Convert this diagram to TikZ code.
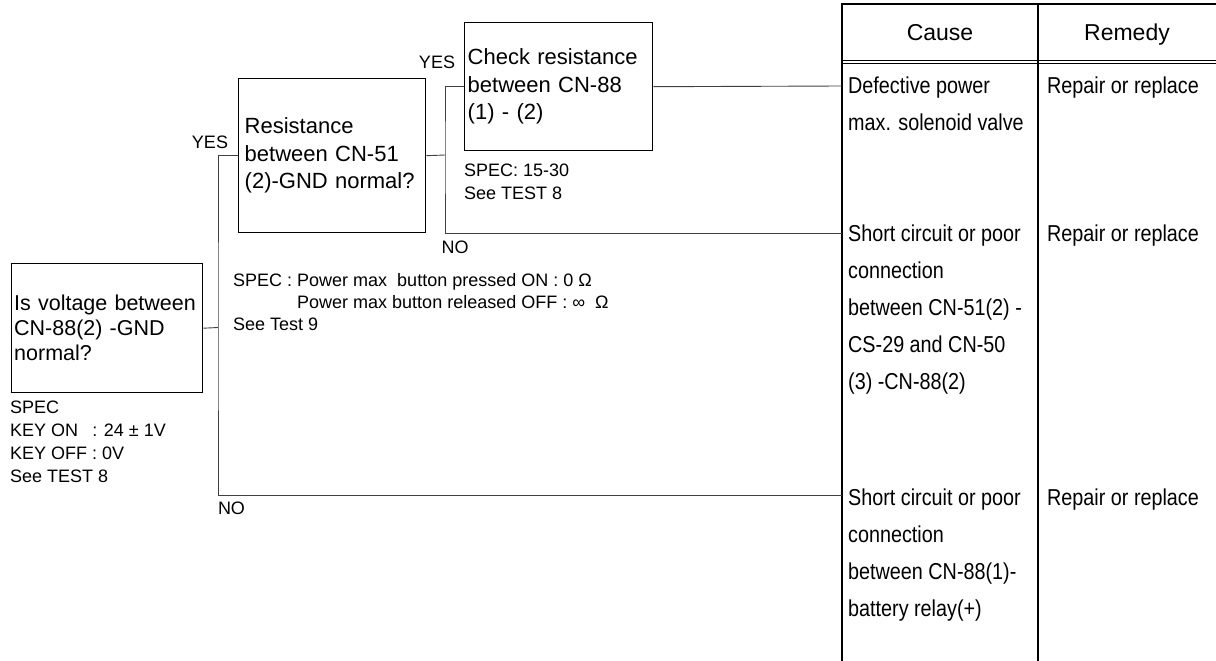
\documentclass[tikz,border=0pt]{standalone}
\usepackage{fontspec}
\setmainfont{Liberation Sans}
\newfontfamily\condfont{Liberation Sans}[FakeStretch=0.86]
\usetikzlibrary{positioning}

\begin{document}
\begin{tikzpicture}[x=1pt, y=-1pt,
  check/.style={draw, line width=1.4pt, align=left, anchor=north west,
                inner ysep=0pt, font=\fontsize{22}{27.5}\selectfont},
  spec/.style={align=left, anchor=north west, inner sep=0pt,
               font=\fontsize{18}{23}\selectfont},
  answer/.style={anchor=base, inner sep=0pt, font=\fontsize{18}{18}\selectfont},
  cause/.style={align=left, anchor=north west, inner xsep=6pt, inner ysep=3pt,
                font=\condfont\fontsize{23}{37}\selectfont},
  head/.style={anchor=base, font=\fontsize{23}{23}\selectfont},
  link/.style={line width=0.9pt, draw=black!75},
  rule/.style={line width=1.2pt}
]
\useasboundingbox (0,0) rectangle (1216,661);

% checks
\node[check, inner xsep=2.5pt, text width=186pt, minimum height=129pt,
      font=\fontsize{21.5}{25}\selectfont] (voltage) at (11,263)
  {Is voltage between\\CN-88(2) -GND\\normal?};
\node[check, inner xsep=6pt, text width=175pt, minimum height=154pt]
  (resist) at (238,78) {Resistance\\between CN-51\\(2)-GND normal?};
\node[check, inner xsep=3pt, text width=182pt, minimum height=128pt]
  (solenoid) at (464,22) {Check resistance\\between CN-88\\(1) - (2)};

% specs
\node[spec] (voltspec) at (10,400.5)
  {SPEC\\\makebox[4.56em][l]{KEY ON}: 24 ± 1V\\KEY OFF : 0V\\See TEST 8};
\node[spec, font=\fontsize{18}{22}\selectfont] (resistspec) at (233,273.3)
  {SPEC : Power max\ \ button pressed ON : 0 Ω\\
   \hphantom{SPEC : }Power max button released OFF : ∞\ \ Ω\\See Test 9};
\node[spec] (solspec) at (464,163.6) {SPEC: 15-30\\See TEST 8};

% table
\draw[rule] (842,661) -- (842,4) -- (1216,4);
\draw[rule] (1038,4) -- (1038,661);
\draw[rule, line width=0.8pt] (842,60.5) -- (1216,60.5) (842,63.5) -- (1216,63.5);
\node[head] (causehead) at (940,41) {Cause};
\node[head] (remedyhead) at (1127,41) {Remedy};

\node[cause] (cause1) at (842,73.4) {Defective power\\max. solenoid valve};
\node[cause] (cause2) at (842,221.4)
  {Short circuit or poor\\connection\\between CN-51(2) -\\CS-29 and CN-50\\(3) -CN-88(2)};
\node[cause] (cause3) at (842,485.4)
  {Short circuit or poor\\connection\\between CN-88(1)-\\battery relay(+)};
\node[cause, inner xsep=9pt] (remedy1) at (1038,73.4) {Repair or replace};
\node[cause, inner xsep=9pt] (remedy2) at (1038,221.4) {Repair or replace};
\node[cause, inner xsep=9pt] (remedy3) at (1038,485.4) {Repair or replace};

% links
\coordinate (splitA) at (218,327.5);
\coordinate (splitB) at (445,155);
\coordinate (row1) at (842,86);
\coordinate (row2) at (842,233);
\coordinate (row3) at (842,495);

\draw[link] (voltage.east) -- (splitA);
\draw[link] (resist.west) -| (splitA) |- (row3);
\draw[link] (resist.east) -- (splitB);
\draw[link] (solenoid.west) -| (splitB) |- (row2);
\draw[link] (solenoid.east) -- (row1);

\node[answer] (yesA) at (210,148.5) {YES};
\node[answer] (noA) at (231.5,514) {NO};
\node[answer] (yesB) at (437,68.5) {YES};
\node[answer] (noB) at (455,253) {NO};
\end{tikzpicture}
\end{document}
